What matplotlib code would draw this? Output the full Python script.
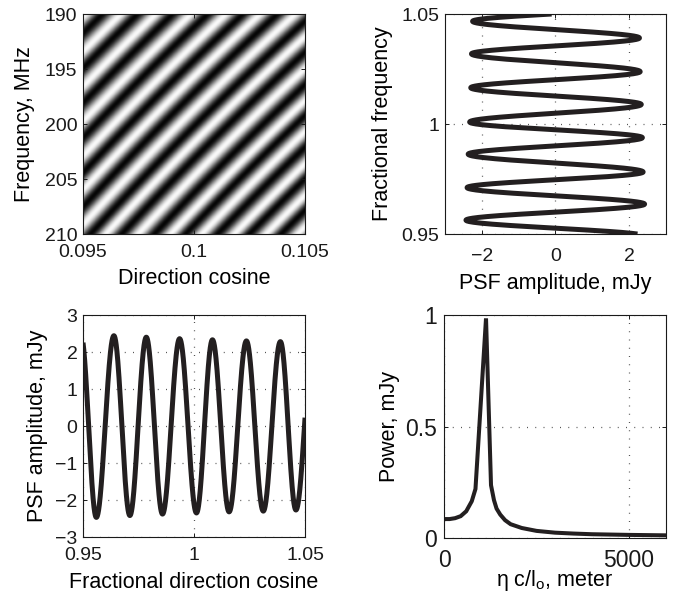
"""Interferometer fringe: 2-D PSF pattern, its two 1-D cuts and the delay power spectrum."""
import numpy as np
import matplotlib

matplotlib.use("Agg")
import matplotlib.pyplot as plt

plt.rcParams.update({
    "font.family": ["Liberation Sans", "DejaVu Sans"],
    "mathtext.fontset": "custom",
    "mathtext.rm": "Liberation Sans",
    "mathtext.it": "Liberation Sans:italic",
    "xtick.direction": "in",
    "ytick.direction": "in",
    "xtick.top": True,
    "ytick.right": True,
    "xtick.major.size": 3,
    "ytick.major.size": 3,
    "xtick.major.width": 0.7,
    "ytick.major.width": 0.7,
    "axes.linewidth": 0.8,
    "axes.edgecolor": "#1a1a1a",
    "text.color": "#1a1a1a",
    "xtick.color": "#1a1a1a",
    "ytick.color": "#1a1a1a",
})

INK = "#231f20"
GRID = dict(color="#555555", linewidth=0.9, linestyle=(0, (0.8, 5.8)))

# fringe turning points along the direction-cosine cut (fractional l, mJy)
cut_l_x = [0.9490, 0.9560, 0.9639, 0.9711, 0.9785, 0.9858, 0.9935, 1.0011,
           1.0083, 1.0158, 1.0236, 1.0312, 1.0389, 1.0459, 1.0536]
cut_l_y = [2.50, -2.47, 2.44, -2.42, 2.40, -2.38, 2.36, -2.35,
           2.33, -2.32, 2.30, -2.30, 2.28, -2.27, 2.26]

# fringe turning points along the frequency cut (fractional frequency, mJy)
cut_f_x = [0.9490, 0.9563, 0.9636, 0.9711, 0.9782, 0.9863, 0.9938, 1.0009,
           1.0089, 1.0165, 1.0238, 1.0319, 1.0391, 1.0467, 1.0535]
cut_f_y = [2.45, -2.43, 2.42, -2.40, 2.38, -2.37, 2.36, -2.33,
           2.33, -2.30, 2.30, -2.28, 2.28, -2.25, 2.25]

# bright (+1) / dark (-1) stripe centres of the 2-D pattern versus l*nu (fractional)
img_s = [0.8890, 0.8960, 0.9040, 0.9110, 0.9190, 0.9260, 0.9340, 0.9410,
         0.9490, 0.9560, 0.9639, 0.9711, 0.9785, 0.9858, 0.9935, 1.0011,
         1.0083, 1.0158, 1.0236, 1.0312, 1.0389, 1.0459, 1.0536, 1.0610,
         1.0690, 1.0760, 1.0840, 1.0910, 1.0990, 1.1060, 1.1140]
img_v = [1, -1, 1, -1, 1, -1, 1, -1, 1, -1, 1, -1, 1, -1, 1, -1,
         1, -1, 1, -1, 1, -1, 1, -1, 1, -1, 1, -1, 1, -1, 1]

# delay power spectrum (eta c / l0 in metres, mJy)
pow_x = [0, 150, 300, 450, 600, 750, 850, 1135, 1270, 1350, 1420, 1520,
         1650, 1800, 2100, 2500, 3000, 3500, 4000, 5000, 6000]
pow_y = [0.085, 0.085, 0.089, 0.098, 0.120, 0.165, 0.220, 0.985, 0.237, 0.170,
         0.132, 0.105, 0.080, 0.062, 0.045, 0.032, 0.024, 0.020, 0.017, 0.014,
         0.012]

freq_ticks = [190, 195, 200, 205, 210]
dcos_ticks = [0.095, 0.1, 0.105]


def through_extrema(x, xe, ye):
    """Smooth curve passing through successive turning points (half-cosine steps)."""
    xe = np.asarray(xe, float)
    ye = np.asarray(ye, float)
    i = np.clip(np.searchsorted(xe, x) - 1, 0, len(xe) - 2)
    t = (x - xe[i]) / (xe[i + 1] - xe[i])
    w = (1 - np.cos(np.pi * t)) / 2
    return ye[i] + (ye[i + 1] - ye[i]) * w


fig = plt.figure(figsize=(6.85, 5.99), dpi=100)
ax_img = fig.add_axes([0.1212, 0.6093, 0.3241, 0.3673])
ax_f = fig.add_axes([0.6496, 0.6093, 0.3226, 0.3673])
ax_l = fig.add_axes([0.1212, 0.1035, 0.3241, 0.3706])
ax_p = fig.add_axes([0.6482, 0.1018, 0.3241, 0.3723])

LAB = 15.5
TCK = 14

# 2-D fringe image: row 0 is the lowest frequency (190 MHz)
L = np.linspace(0.95, 1.05, 400)
F = np.linspace(0.95, 1.05, 400)
LL, FF = np.meshgrid(L, F)
img = through_extrema(LL * FF, img_s, img_v)
ax_img.imshow(img, cmap="gray", origin="lower", extent=(0.095, 0.105, 190, 210),
              aspect="auto", interpolation="bilinear", vmin=-1.05, vmax=1.05)
ax_img.set_xlim(0.095, 0.105)
ax_img.set_ylim(210, 190)
ax_img.set_xticks(dcos_ticks)
ax_img.set_xticklabels(["0.095", "0.1", "0.105"])
ax_img.set_yticks(freq_ticks)
ax_img.set_xlabel("Direction cosine", fontsize=LAB, labelpad=5)
ax_img.set_ylabel("Frequency, MHz", fontsize=LAB, labelpad=7)

# frequency cut
fv = np.linspace(0.95, 1.05, 1500)
ax_f.plot(through_extrema(fv, cut_f_x, cut_f_y), fv, color=INK, lw=3.6,
          solid_capstyle="butt")
ax_f.set_xlim(-3, 3)
ax_f.set_ylim(0.95, 1.05)
ax_f.set_xticks([-2, 0, 2])
ax_f.set_yticks([0.95, 1, 1.05])
ax_f.set_yticklabels(["0.95", "1", "1.05"])
ax_f.grid(True, **GRID)
ax_f.set_xlabel("PSF amplitude, mJy", fontsize=LAB, labelpad=6)
ax_f.set_ylabel("Fractional frequency", fontsize=LAB, labelpad=6)

# direction-cosine cut
lv = np.linspace(0.95, 1.05, 1500)
ax_l.plot(lv, through_extrema(lv, cut_l_x, cut_l_y), color=INK, lw=3.6,
          solid_capstyle="butt")
ax_l.set_xlim(0.95, 1.05)
ax_l.set_ylim(-3, 3)
ax_l.set_xticks([0.95, 1, 1.05])
ax_l.set_xticklabels(["0.95", "1", "1.05"])
ax_l.set_yticks([-3, -2, -1, 0, 1, 2, 3])
ax_l.grid(True, **GRID)
ax_l.set_xlabel("Fractional direction cosine", fontsize=LAB, labelpad=6)
ax_l.set_ylabel("PSF amplitude, mJy", fontsize=LAB, labelpad=5)

# delay power spectrum
ax_p.plot(pow_x, pow_y, color=INK, lw=2.9, solid_joinstyle="miter")
ax_p.set_xlim(0, 6000)
ax_p.set_ylim(0, 1)
ax_p.set_xticks([0, 5000])
ax_p.set_yticks([0, 0.5, 1])
ax_p.set_yticklabels(["0", "0.5", "1"])
ax_p.grid(True, **GRID)
ax_p.set_xlabel("\u03b7 c/l$_{\\mathrm{o}}$, meter", fontsize=LAB, labelpad=-3)
ax_p.set_ylabel("Power, mJy", fontsize=LAB, labelpad=4)

for ax in (ax_img, ax_f, ax_l):
    ax.tick_params(axis="y", labelsize=TCK, pad=4)
    ax.tick_params(axis="x", labelsize=TCK, pad=7)
ax_f.tick_params(axis="x", pad=10)
ax_p.tick_params(axis="y", labelsize=16.5, pad=5)
ax_p.tick_params(axis="x", labelsize=16.5, pad=8)

fig.savefig("out.png", dpi=100, facecolor="white")
